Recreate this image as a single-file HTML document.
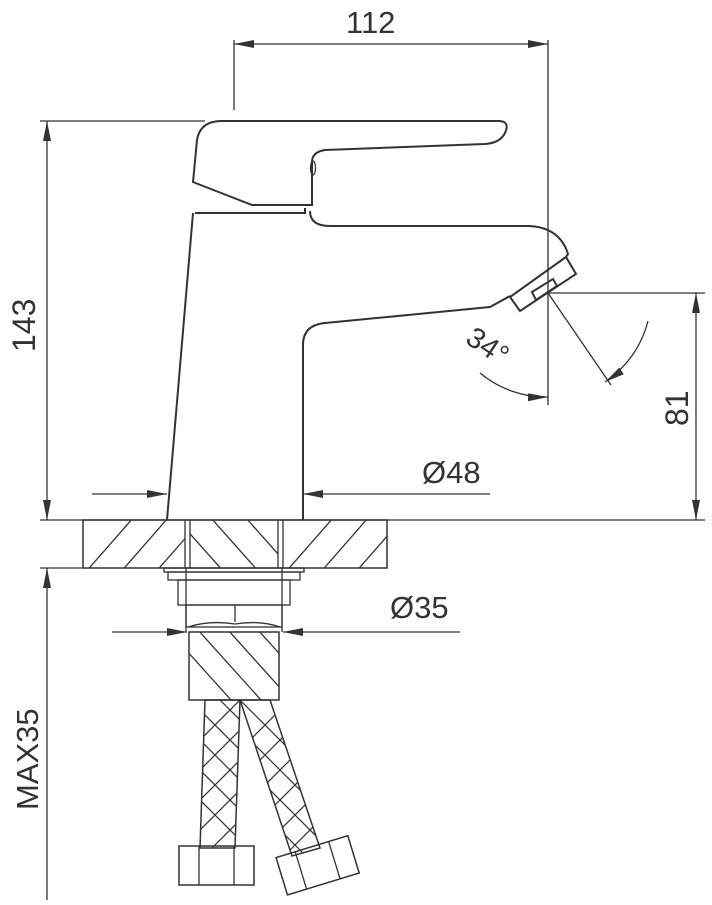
<!DOCTYPE html>
<html><head><style>html,body{margin:0;padding:0;background:#fff}svg{display:block}</style></head><body>
<svg width="712" height="905" viewBox="0 0 712 905" xmlns="http://www.w3.org/2000/svg" font-family="Liberation Sans, Arial, sans-serif">
<defs>
<marker id="a" viewBox="0 0 20 8" refX="20" refY="4" markerWidth="20" markerHeight="8" markerUnits="userSpaceOnUse" orient="auto-start-reverse"><path d="M0,0L20,4L0,8z" fill="#333"/></marker>
<clipPath id="c1"><rect x="83" y="520" width="102" height="48"/></clipPath>
<clipPath id="c2"><rect x="190" y="520" width="88" height="48"/></clipPath>
<clipPath id="c3"><rect x="283" y="520" width="104" height="48"/></clipPath>
<clipPath id="c4"><rect x="189" y="632" width="90" height="68"/></clipPath>
<clipPath id="h1"><polygon points="205,700 240,700 235,848 200,848"/></clipPath>
<clipPath id="h2"><polygon points="240,700 270,700 320,848 292,856"/></clipPath>
</defs>
<g stroke="#333" stroke-width="2" fill="none">
<line x1="234" y1="40" x2="234" y2="110" stroke-width="1.3"/>
<line x1="548" y1="40" x2="548" y2="405" stroke-width="1.3"/>
<line x1="234" y1="44" x2="548" y2="44" stroke-width="1.3" marker-start="url(#a)" marker-end="url(#a)"/>
<line x1="40" y1="121" x2="205" y2="121" stroke-width="1.3"/>
<line x1="47" y1="121" x2="47" y2="520" stroke-width="1.3" marker-start="url(#a)" marker-end="url(#a)"/>
<line x1="40" y1="520" x2="705" y2="520" stroke-width="1.3"/>
<line x1="40" y1="568" x2="83" y2="568" stroke-width="1.3"/>
<line x1="548" y1="293" x2="705" y2="293" stroke-width="1.3"/>
<line x1="696" y1="293" x2="696" y2="520" stroke-width="1.3" marker-start="url(#a)" marker-end="url(#a)"/>
<line x1="92" y1="494" x2="167" y2="494" stroke-width="1.3" marker-end="url(#a)"/>
<line x1="490" y1="494" x2="303" y2="494" stroke-width="1.3" marker-end="url(#a)"/>
<line x1="112" y1="632" x2="187" y2="632" stroke-width="1.3" marker-end="url(#a)"/>
<line x1="460" y1="632" x2="283" y2="632" stroke-width="1.3" marker-end="url(#a)"/>
<line x1="47" y1="900" x2="47" y2="568" stroke-width="1.3" marker-end="url(#a)"/>
<line x1="548" y1="293" x2="611" y2="385" stroke-width="1.3"/>
<path d="M480,373 A104,104 0 0 0 548,397" stroke-width="1.3" marker-end="url(#a)"/>
<path d="M648,321 A104,104 0 0 1 605,382" stroke-width="1.3" marker-end="url(#a)"/>
<path d="M193,213 L167,520"/>
<path d="M303,520 L303,345 Q303,325 325,323 L490,307 L510,296"/>
<path d="M195,213 L305,213 L305,208"/>
<path d="M310,211 Q310,226 330,226 L530,226 Q560,228 568,254 L566,257"/>
<polygon points="510,297 520,311 576,274 566,257"/>
<polygon points="532,292 536,300 557,286 553,279"/>
<path d="M193,182 L197,140 Q200,121 222,121 L500,121 Q510,122 505,133 Q500,143 485,144 L325,150 Q312,152 312,162 L312,205 L252,205 L193,182 Z"/>
<ellipse cx="313" cy="168" rx="2.5" ry="7" stroke-width="1.3"/>
<rect x="83" y="520" width="304" height="48" stroke-width="1.5"/>
<line x1="185" y1="520" x2="185" y2="568" stroke-width="1.3"/>
<line x1="190" y1="520" x2="190" y2="568" stroke-width="1.3"/>
<line x1="278" y1="520" x2="278" y2="568" stroke-width="1.3"/>
<line x1="283" y1="520" x2="283" y2="568" stroke-width="1.3"/>
<g stroke-width="1.3" clip-path="url(#c1)"><path d="M70,590L140,510M105,590L175,510M140,590L210,510M175,590L245,510"/></g>
<g stroke-width="1.3" clip-path="url(#c2)"><path d="M160,500L240,590M195,500L275,590M230,500L310,590M265,500L345,590"/></g>
<g stroke-width="1.3" clip-path="url(#c3)"><path d="M270,590L340,510M305,590L375,510M340,590L410,510M375,590L445,510"/></g>
<rect x="164" y="568" width="140" height="4" stroke-width="1.3"/>
<rect x="168" y="572" width="132" height="8" stroke-width="1.3"/>
<rect x="178" y="580" width="112" height="25" stroke-width="1.3"/>
<line x1="186" y1="568" x2="186" y2="632" stroke-width="1.3"/>
<line x1="282" y1="568" x2="282" y2="632" stroke-width="1.3"/>
<rect x="186" y="605" width="96" height="22" stroke-width="1.3"/>
<line x1="235" y1="605" x2="235" y2="622" stroke-width="1.3"/>
<path d="M188,627 Q210,620 235,624 Q260,620 280,627" stroke-width="1.3"/>
<rect x="189" y="632" width="90" height="68" stroke-width="1.5"/>
<g stroke-width="1.3" clip-path="url(#c4)"><path d="M150,610L240,710M180,610L270,710M210,610L300,710M240,610L330,710"/></g>
<polygon points="205,700 240,700 235,848 200,848" stroke-width="1.5"/>
<polygon points="240,700 270,700 320,848 292,856" stroke-width="1.5"/>
<g stroke-width="1.2" clip-path="url(#h1)"><path d="M160,700L300,840M160,730L300,870M160,760L300,900M160,670L300,810M160,640L300,780 M160,840L300,700M160,870L300,730M160,900L300,760M160,810L300,670M160,780L300,640"/></g>
<g stroke-width="1.2" clip-path="url(#h2)"><path d="M200,690L360,850M200,720L360,880M200,660L360,820M200,630L360,790M200,750L360,910 M220,860L340,740M220,830L340,710M220,800L340,680M220,890L340,770M220,920L340,800M220,770L340,650"/></g>
<rect x="179" y="846" width="75" height="39" stroke-width="1.5"/>
<line x1="199" y1="846" x2="199" y2="885" stroke-width="1.3"/>
<line x1="234" y1="846" x2="234" y2="885" stroke-width="1.3"/>
<g transform="rotate(-17 317 865)"><rect x="280" y="846" width="75" height="39" stroke-width="1.5"/><line x1="300" y1="846" x2="300" y2="885" stroke-width="1.3"/><line x1="335" y1="846" x2="335" y2="885" stroke-width="1.3"/></g>
</g>
<g fill="#333" font-size="31">
<text x="346" y="33">112</text>
<text x="422" y="483">Ø48</text>
<text x="390" y="618">Ø35</text>
<text transform="translate(35,352) rotate(-90)" font-size="32">143</text>
<text transform="translate(688,426) rotate(-90)" font-size="32">81</text>
<text transform="translate(38,810) rotate(-90)">MAX35</text>
<text transform="translate(464,342) rotate(34)" font-size="29">34°</text>
</g>
</svg>
</body></html>
